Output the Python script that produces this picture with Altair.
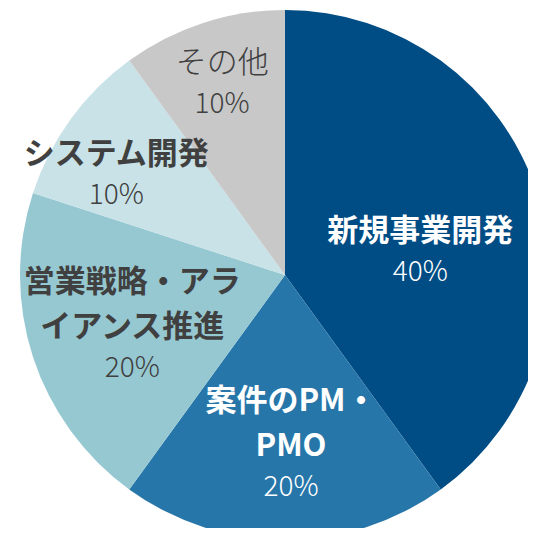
import altair as alt
import pandas as pd
import numpy as np

# --- data ---
categories = ["新規事業開発", "案件のPM・PMO", "営業戦略・アライアンス推進", "システム開発", "その他"]
label_lines = [["新規事業開発"], ["案件のPM・", "PMO"], ["営業戦略・アラ", "イアンス推進"], ["システム開発"], ["その他"]]
values = [40, 20, 20, 10, 10]
colors = ["#004c85", "#2776a9", "#96c8d2", "#c8e2e7", "#c8c8c8"]
text_colors = ["#ffffff", "#ffffff", "#404040", "#404040", "#404040"]
name_weights = ["bold", "bold", "bold", "bold", "normal"]

# --- layout (label placement, pixels / degrees) ---
W = H = 520
CX, CY, R = 277, 267, 265
label_r = [142, 127, 153, 207, 220]
label_nudge = [0.3, -2.7, 15.0, -0.6, 1.4]
LINE_H = 45
PCT_GAP = 41

df = pd.DataFrame({"category": categories, "value": values, "order": range(len(values))})

total = sum(values)
cum = np.cumsum([0] + values[:-1])
rows = []
for i, c in enumerate(categories):
    mid = (cum[i] + values[i] / 2) / total * 360 + label_nudge[i]
    a = np.deg2rad(mid)
    x0 = CX + label_r[i] * np.sin(a)
    y0 = CY - label_r[i] * np.cos(a)
    rows.append({
        "category": c,
        "name": "\n".join(label_lines[i]),
        "pct": f"{values[i]}%",
        "x": x0,
        "y": y0,
        "py": y0 + (len(label_lines[i]) - 1) * LINE_H + PCT_GAP,
        "tc": text_colors[i],
        "w": name_weights[i],
    })
lab = pd.DataFrame(rows)

pie = alt.Chart(df).mark_arc(radius=R, clip=True).encode(
    theta=alt.Theta("value:Q", stack=True),
    order=alt.Order("order:Q"),
    color=alt.Color("category:N", scale=alt.Scale(domain=categories, range=colors), legend=None),
    x=alt.value(CX),
    y=alt.value(CY),
)

FONT = "Noto Sans CJK JP"

names_bold = alt.Chart(lab).transform_filter("datum.w == 'bold'").mark_text(
    font=FONT, fontSize=31, fontWeight="bold", lineBreak="\n", lineHeight=LINE_H,
    baseline="middle", align="center",
).encode(
    x=alt.X("x:Q", scale=None),
    y=alt.Y("y:Q", scale=None),
    text="name:N",
    color=alt.Color("tc:N", scale=None),
)

names_normal = alt.Chart(lab).transform_filter("datum.w == 'normal'").mark_text(
    font=FONT, fontSize=31, fontWeight=300, lineBreak="\n", lineHeight=LINE_H,
    baseline="middle", align="center",
).encode(
    x=alt.X("x:Q", scale=None),
    y=alt.Y("y:Q", scale=None),
    text="name:N",
    color=alt.Color("tc:N", scale=None),
)

pcts = alt.Chart(lab).mark_text(
    font=FONT, fontSize=28, fontWeight=300, baseline="middle", align="center",
).encode(
    x=alt.X("x:Q", scale=None),
    y=alt.Y("py:Q", scale=None),
    text="pct:N",
    color=alt.Color("tc:N", scale=None),
)

chart = alt.layer(pie, names_bold, names_normal, pcts).properties(
    width=W, height=H, padding=0,
    autosize=alt.AutoSizeParams(type="none"),
).configure_view(stroke=None)

chart.save("out.html", embed_options={"renderer": "svg", "actions": False})
